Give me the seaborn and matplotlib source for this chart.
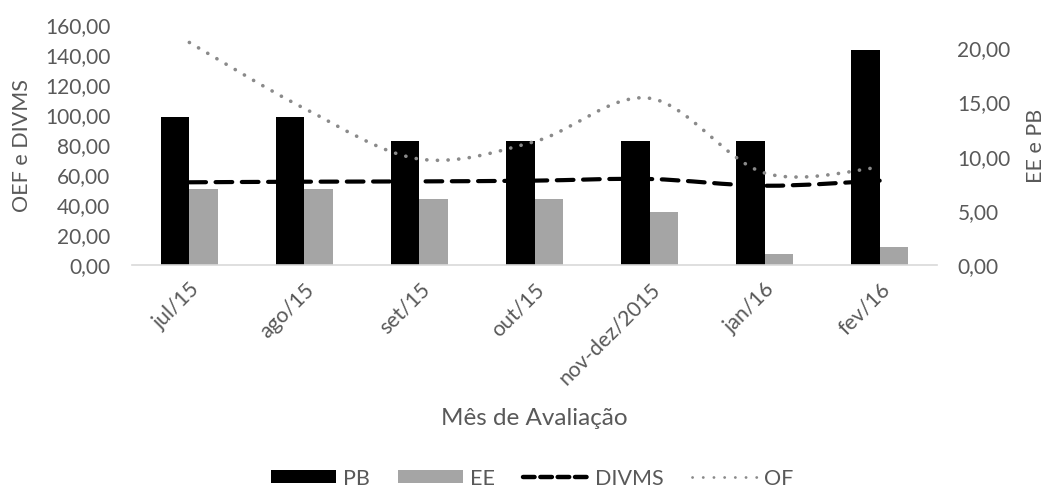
import numpy as np
import pandas as pd
import matplotlib
matplotlib.use("Agg")
import matplotlib.pyplot as plt
import seaborn as sns
from matplotlib.path import Path
from matplotlib.patches import PathPatch, Patch
from matplotlib.lines import Line2D
from matplotlib.ticker import FuncFormatter, MultipleLocator

# ---- data -------------------------------------------------------------
meses = ["jul/15", "ago/15", "set/15", "out/15", "nov-dez/2015", "jan/16", "fev/16"]
pb = [13.6, 13.6, 11.4, 11.4, 11.4, 11.4, 19.7]      # right axis (EE e PB)
ee = [6.95, 6.95, 6.0, 6.0, 4.8, 1.0, 1.6]           # right axis (EE e PB)
divms = [54.8, 55.2, 55.4, 55.9, 57.0, 52.5, 55.9]   # left axis (OEF e DIVMS)
of = [148.0, 104.0, 70.3, 81.9, 110.8, 61.0, 64.8]   # left axis (OEF e DIVMS)

# ---- style ------------------------------------------------------------
sns.set_theme(style="white")
plt.rcParams["font.family"] = ["Lato", "DejaVu Sans"]
TXT = "#595959"
AXIS = "#d9d9d9"
TICK_FS = 15

fig = plt.figure(figsize=(10.46, 4.89), dpi=100)
ax = fig.add_axes([0.126, 0.457, 0.77, 0.491])   # bars, scale shown on the right

bars = pd.DataFrame({
    "mes": meses * 2,
    "valor": pb + ee,
    "serie": ["PB"] * len(meses) + ["EE"] * len(meses),
})
sns.barplot(data=bars, x="mes", y="valor", hue="serie", order=meses,
            hue_order=["PB", "EE"], palette={"PB": "#000000", "EE": "#a5a5a5"},
            width=0.5, saturation=1, legend=False, ax=ax, linewidth=0)
ax.set_ylim(0, 22.08)
ax.set_xlim(-0.5, len(meses) - 0.5)

# lines on a twin axes so they sit above the bars; scale shown on the left
ax2 = ax.twinx()
ax2.set_ylim(0, 160)
ax2.yaxis.tick_left()
ax2.yaxis.set_major_locator(MultipleLocator(20))

ax.yaxis.tick_right()
ax.yaxis.set_major_locator(MultipleLocator(5))


def smooth_path(xs, ys, k=1.0 / 6.0):
    """Catmull-Rom style cubic Bezier path through the points."""
    pts = np.column_stack([xs, ys]).astype(float)
    n = len(pts)
    verts = [pts[0]]
    codes = [Path.MOVETO]
    for i in range(n - 1):
        p0 = pts[i - 1] if i > 0 else pts[i]
        p1 = pts[i]
        p2 = pts[i + 1]
        p3 = pts[i + 2] if i + 2 < n else pts[i + 1]
        c1 = p1 + (p2 - p0) * k
        c2 = p2 - (p3 - p1) * k
        verts += [c1, c2, p2]
        codes += [Path.CURVE4] * 3
    return Path(verts, codes)


xpos = np.arange(len(meses))
divms_patch = PathPatch(smooth_path(xpos, divms), fill=False, edgecolor="#000000",
                        linewidth=3.0, linestyle=(0, (4, 2.3)), capstyle="round")
of_patch = PathPatch(smooth_path(xpos, of), fill=False, edgecolor="#8a8a8a",
                     linewidth=2.6, linestyle=(0, (0.05, 2.9)), capstyle="round")
ax2.add_patch(divms_patch)
ax2.add_patch(of_patch)

comma = FuncFormatter(lambda v, p: f"{v:.2f}".replace(".", ","))
for a in (ax, ax2):
    a.yaxis.set_major_formatter(comma)
    a.tick_params(axis="y", length=0, labelsize=TICK_FS, labelcolor=TXT)
    a.tick_params(axis="x", length=0)
    for s in a.spines.values():
        s.set_visible(False)
    a.grid(False)
ax2.tick_params(axis="y", pad=15.5)
ax.tick_params(axis="y", pad=14.5)
ax.spines["bottom"].set_visible(True)
ax.spines["bottom"].set_color(AXIS)
ax.spines["bottom"].set_linewidth(1.2)

ax.set_xticks(xpos)
ax.set_xticklabels(meses, rotation=45, ha="right", rotation_mode="anchor",
                   fontsize=TICK_FS + 0.3, color=TXT)
ax.tick_params(axis="x", pad=10)

ax.set_xlabel("Mês de Avaliação", fontsize=17.5, color=TXT, labelpad=14)

ax.set_ylabel("EE e PB", fontsize=15.5, color=TXT, va="center")
ax.yaxis.set_label_coords(1.123, 0.5)
ax2.set_ylabel("OEF e DIVMS", fontsize=15.5, color=TXT, va="center")
ax2.yaxis.set_label_coords(-0.1366, 0.5)

handles = [
    Patch(facecolor="#000000", edgecolor="none", label="PB"),
    Patch(facecolor="#a5a5a5", edgecolor="none", label="EE"),
    Line2D([], [], color="#000000", linewidth=3.2, linestyle=(0, (2.6, 1.3)),
           dash_capstyle="round", label="DIVMS"),
    Line2D([], [], color="#8a8a8a", linewidth=2.0, linestyle=(0, (0.05, 3.8)),
           dash_capstyle="round", label="OF"),
]
fig.legend(handles=handles, loc="center", bbox_to_anchor=(0.509, 0.02),
           ncol=4, frameon=False, fontsize=15.5, labelcolor=TXT,
           handlelength=3.0, handleheight=0.5, columnspacing=1.3, handletextpad=0.35)

fig.savefig("out.png", dpi=100)
